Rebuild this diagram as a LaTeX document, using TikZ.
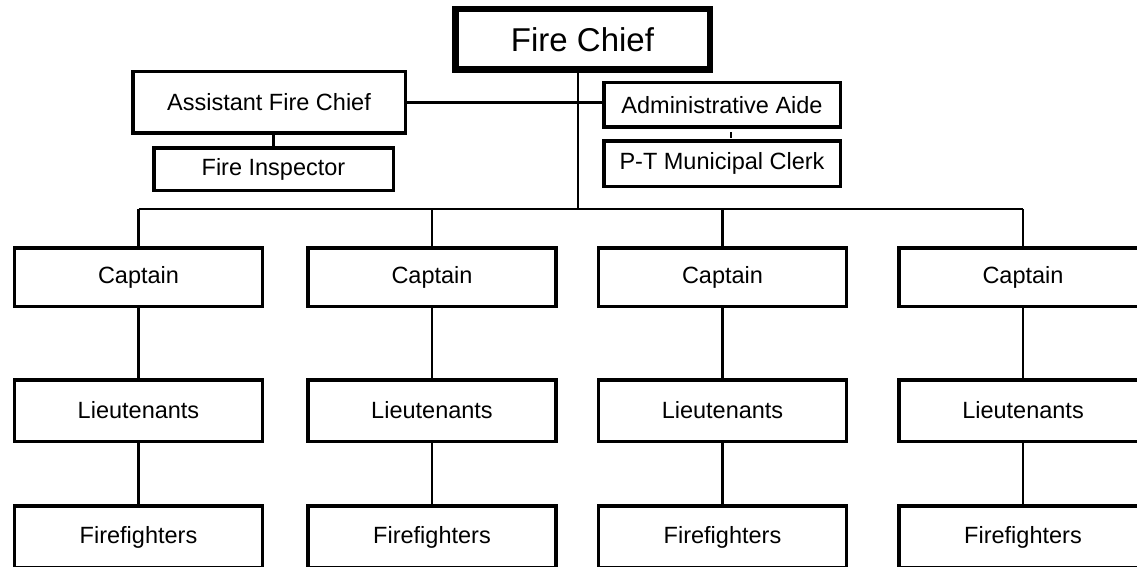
\documentclass[tikz,border=0pt]{standalone}
\usepackage{fontspec}
\setmainfont{Liberation Sans}
\begin{document}
\begin{tikzpicture}[x=1pt,y=-1pt,
  box/.style={draw=black,line width=3.5pt,inner sep=0pt,fill=white,
    font=\fontsize{23.5}{28}\selectfont},
  chief/.style={draw=black,line width=6.5pt,inner sep=0pt,fill=white,
    font=\fontsize{33}{38}\selectfont},
  link/.style={draw=black,line width=2.3pt}]
\useasboundingbox (0,0) rectangle (1137,567);
% top
\node[chief,minimum width=254.5pt,minimum height=60.5pt] (fc) at (582.5,39.5) {Fire Chief};
\node[box,minimum width=272.5pt,minimum height=61.5pt] (asst) at (269,102.5) {Assistant Fire Chief};
\node[box,minimum width=239.5pt,minimum height=42.5pt] (fi) at (273.5,169) {Fire Inspector};
\node[box,minimum width=236.5pt,minimum height=44.5pt] (aide) at (722,105) {Administrative Aide};
\node[box,minimum width=236.5pt,minimum height=45.5pt] (clerk) at (722,163.5) {P-T Municipal Clerk};
\coordinate (bar) at (0,209);
\coordinate (stubA) at (731,132.5);
\coordinate (stubB) at (731,137.5);
% columns
\foreach \i/\x in {1/138.5,2/432,3/722.5,4/1023}{
  \node[box,minimum width=248pt,minimum height=58.5pt] (cap\i) at (\x,277) {Captain};
  \node[box,minimum width=248pt,minimum height=61.5pt] (lt\i) at (\x,410.5) {Lieutenants};
  \node[box,minimum width=248pt,minimum height=62pt] (ff\i) at (\x,537) {Firefighters};
}
\begin{scope}[on background layer/.try]
\end{scope}
% connectors
\draw[link] ([xshift=-4.5pt]fc.south) -- ([xshift=-4.5pt]fc.south |- bar);
\draw[link] (asst.east) -- (asst.east -| aide.west);
\draw[link] (fi.north) -- (fi.north |- asst.south);
\draw[link] (stubA) -- (stubB);
\draw[link] (cap1.north |- bar) -- (cap4.north |- bar);
\foreach \i in {1,2,3,4}{
  \draw[link] (cap\i.north) -- (cap\i.north |- bar);
  \draw[link] (cap\i.south) -- (lt\i.north);
  \draw[link] (lt\i.south) -- (ff\i.north);
}
\end{tikzpicture}
\end{document}
